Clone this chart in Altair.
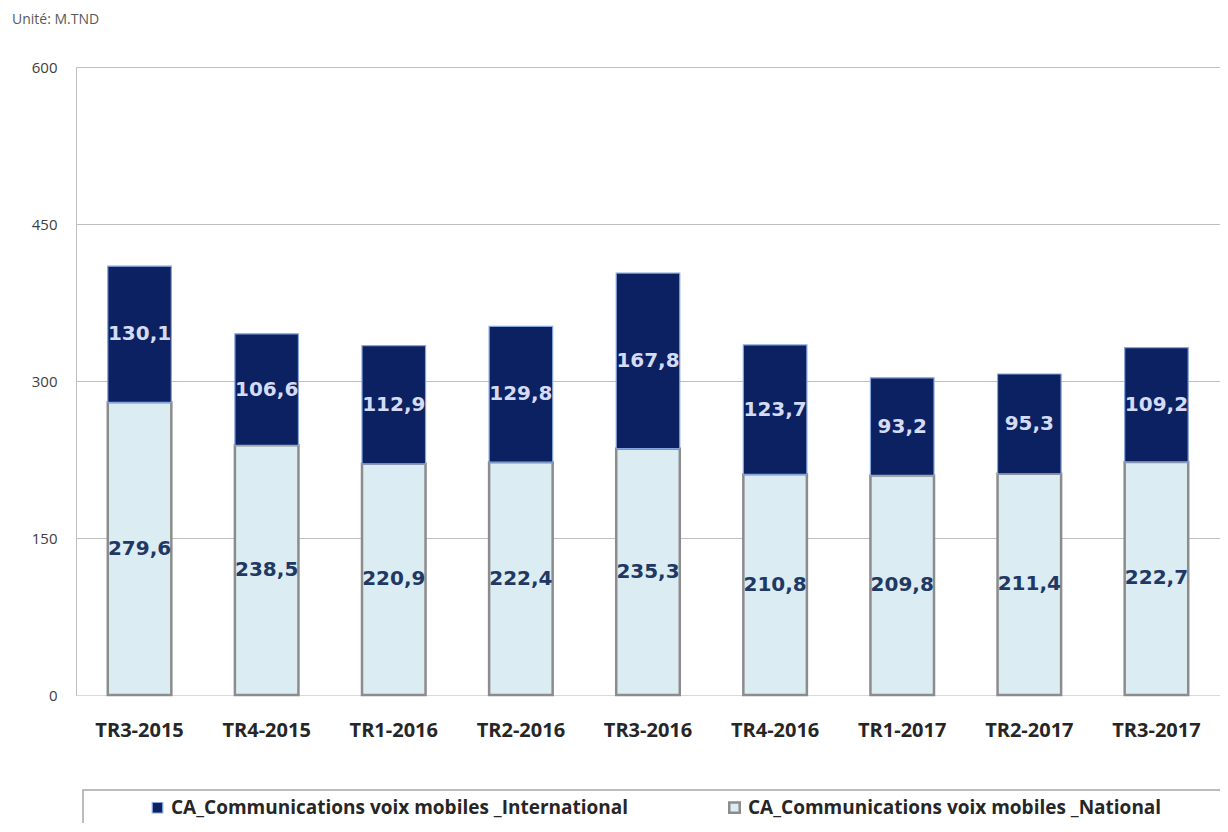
import altair as alt
import pandas as pd

trimestres = ["TR3-2015", "TR4-2015", "TR1-2016", "TR2-2016", "TR3-2016",
              "TR4-2016", "TR1-2017", "TR2-2017", "TR3-2017"]
national = [279.6, 238.5, 220.9, 222.4, 235.3, 210.8, 209.8, 211.4, 222.7]
international = [130.1, 106.6, 112.9, 129.8, 167.8, 123.7, 93.2, 95.3, 109.2]
series = ["CA_Communications voix mobiles _International",
          "CA_Communications voix mobiles _National"]
y_ticks = [0, 150, 300, 450, 600]

rows = []
for i, t in enumerate(trimestres):
    rows.append({"TR": t, "serie": series[1], "valeur": national[i], "ordre": 0})
    rows.append({"TR": t, "serie": series[0], "valeur": international[i], "ordre": 1})
df = pd.DataFrame(rows)

base = alt.Chart(df).transform_stack(
    stack="valeur", groupby=["TR"], as_=["y0", "y1"],
    sort=[alt.SortField("ordre", order="ascending")]
).transform_calculate(
    mid="(datum.y0 + datum.y1) / 2",
    lab="replace(format(datum.valeur, '.1f'), '.', ',')"
)

x_enc = alt.X(
    "TR:N", sort=trimestres,
    scale=alt.Scale(paddingInner=0.5, paddingOuter=0.25),
    axis=alt.Axis(title=None, labelAngle=0, labelFont="Open Sans", labelFontSize=20,
                  labelFontWeight="bold", labelColor="#262626", labelPadding=25,
                  tickSize=0, domainColor="#d9d9d9", domainWidth=1)
)
y_enc = alt.Y(
    "y0:Q", scale=alt.Scale(domain=[0, 600], nice=False),
    axis=alt.Axis(title=None, values=y_ticks, grid=True, gridColor="#bfbfbf",
                  gridWidth=1, tickSize=0, labelPadding=19, domainColor="#bfbfbf",
                  labelFont="Open Sans", labelFontSize=15, labelColor="#404040")
)

legend_props = dict(
    title=None, orient="none", legendX=72, legendY=731, direction="horizontal",
    labelFont="Open Sans", labelFontSize=19, labelFontWeight="bold",
    labelColor="#262626", labelLimit=700, symbolType="square", symbolSize=110,
    symbolStrokeWidth=1.5, columnPadding=95, labelOffset=4, padding=0
)

bars = base.mark_bar().encode(
    x=x_enc,
    y=y_enc,
    y2="y1:Q",
    fill=alt.Fill("serie:N", scale=alt.Scale(domain=series, range=["#0b2161", "#dbecf3"]),
                  legend=alt.Legend(**legend_props)),
    stroke=alt.Stroke("serie:N", scale=alt.Scale(domain=series, range=["#86a6dc", "#8c8c8c"]),
                      legend=alt.Legend(**legend_props)),
    strokeWidth=alt.StrokeWidth("serie:N", scale=alt.Scale(domain=series, range=[1.2, 2.5]),
                                legend=None),
)

lab_nat = base.transform_filter("datum.ordre == 0").mark_text(
    font="DejaVu Sans", fontWeight="bold", fontSize=20, color="#1f3864"
).encode(x=alt.X("TR:N", sort=trimestres), y=alt.Y("mid:Q"), text="lab:N")

lab_int = base.transform_filter("datum.ordre == 1").mark_text(
    font="DejaVu Sans", fontWeight="bold", fontSize=20, color="#d4dbf5"
).encode(x=alt.X("TR:N", sort=trimestres), y=alt.Y("mid:Q"), text="lab:N")

box = alt.Chart(pd.DataFrame({"k": [0]})).mark_rect(
    fill="white", stroke="#a6a6a6", strokeWidth=1.5
).encode(x=alt.value(7), x2=alt.value(1170), y=alt.value(723), y2=alt.value(780))

chart = alt.layer(box, bars, lab_nat, lab_int).properties(
    width=1144, height=628,
    autosize=alt.AutoSizeParams(type="none"),
    padding={"left": 68, "top": 59, "right": 0, "bottom": 128},
    title=alt.TitleParams("Unité: M.TND", anchor="start", frame="group", dx=-64, offset=33,
                          fontSize=14, fontWeight="normal", color="#595959", font="Open Sans"),
).configure_view(stroke=None).configure(background="white")

chart.save("out.html", embed_options={"renderer": "svg", "actions": False})
